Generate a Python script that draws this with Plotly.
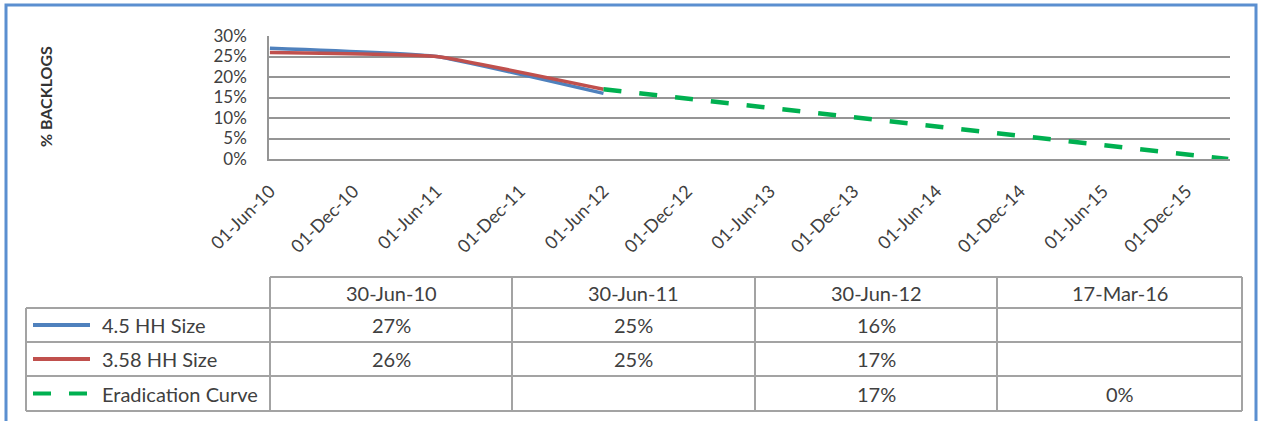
import pandas as pd
import plotly.graph_objects as go

W, H = 1262, 421

# Reporting dates and backlog shares per household-size scenario
dates = ["2010-06-30", "2011-06-30", "2012-06-30", "2016-03-17"]
series_names = ["4.5 HH Size", "3.58 HH Size", "Eradication Curve"]
hh_45 = [0.27, 0.25, 0.16, None]
hh_358 = [0.26, 0.25, 0.17, None]
eradication = [None, None, 0.17, 0.00]
y_ticks = [0, 0.05, 0.10, 0.15, 0.20, 0.25, 0.30]

series_values = [hh_45, hh_358, eradication]
series_colors = ["#4F81BD", "#C0504D", "#00B050"]
series_dash = ["solid", "solid", "18px,18px"]
series_shape = ["spline", "spline", "linear"]

FONT = "Lato, 'Open Sans', sans-serif"
TXT = "#404040"
GRID = "#959595"
TABLE_LINE = "#a3a3a3"


def px(x):
    return x / W


def py(y):
    return 1 - y / H


# Dates are placed on a month-based axis (each point sits at the start of its month)
dt = pd.to_datetime(dates)
month_pos = dt.to_period("M").to_timestamp()

fig = go.Figure()
for name, vals, col, dash, shape in zip(series_names, series_values, series_colors,
                                        series_dash, series_shape):
    xs = [m for m, v in zip(month_pos, vals) if v is not None]
    ys = [v for v in vals if v is not None]
    fig.add_trace(go.Scatter(
        x=xs, y=ys, name=name, mode="lines",
        line=dict(color=col, width=4.5 if dash != "solid" else 3.5, dash=dash,
                  shape=shape, smoothing=0.35 if shape == "spline" else None),
        showlegend=False, hoverinfo="skip",
    ))

fig.update_layout(
    width=W, height=H,
    margin=dict(l=0, r=0, t=0, b=0, autoexpand=False),
    paper_bgcolor="white", plot_bgcolor="white",
    font=dict(family=FONT, color=TXT, size=18),
    xaxis=dict(
        type="date",
        automargin=False,
        domain=[px(269), px(1230)],
        range=["2010-05-30", "2016-03-05"],
        tick0="2010-06-01", dtick="M6", tickformat="%d-%b-%y",
        tickangle=-45, showgrid=False, zeroline=False,
        showline=True, linecolor=GRID, linewidth=1.5,
        # invisible tick marks keep the slanted labels clear of the axis
        ticks="outside", ticklen=13, tickcolor="rgba(0,0,0,0)",
        tickfont=dict(family=FONT, size=18, color=TXT),
        fixedrange=True,
    ),
    yaxis=dict(
        automargin=False,
        domain=[py(159), py(35.6)],
        range=[0, 0.301],
        tickvals=y_ticks, tickformat=".0%",
        showgrid=True, gridcolor=GRID, gridwidth=1.5,
        showline=True, linecolor=GRID, linewidth=1.5,
        zeroline=False, ticks="", ticklabelstandoff=17,
        tickfont=dict(family=FONT, size=17, color=TXT),
        fixedrange=True,
    ),
)

shapes = []
annotations = []

# Outer frame
shapes.append(dict(type="rect", xref="paper", yref="paper",
                   x0=px(6), x1=px(1256), y0=py(5), y1=py(440),
                   line=dict(color="#5b8fd0", width=3), fillcolor="rgba(0,0,0,0)"))

# Axis title
annotations.append(dict(text="<b>% BACKLOGS</b>", xref="paper", yref="paper",
                        x=px(45), y=py(97), showarrow=False, textangle=-90,
                        font=dict(family=FONT, size=16, color="#333333"),
                        xanchor="center", yanchor="middle"))

# Data table under the chart
row_y = [277, 308, 342, 376, 411]
col_x = [270, 512, 755, 997, 1242]
legend_left = 26


def hline(x0, x1, y):
    shapes.append(dict(type="line", xref="paper", yref="paper",
                       x0=px(x0), x1=px(x1), y0=py(y), y1=py(y),
                       line=dict(color=TABLE_LINE, width=2)))


def vline(x, y0, y1):
    shapes.append(dict(type="line", xref="paper", yref="paper",
                       x0=px(x), x1=px(x), y0=py(y0), y1=py(y1),
                       line=dict(color=TABLE_LINE, width=2)))


hline(col_x[0], col_x[-1], row_y[0])
for y in row_y[1:]:
    hline(legend_left, col_x[-1], y)
vline(legend_left, row_y[1], row_y[-1])
for x in col_x:
    vline(x, row_y[0], row_y[-1])


def cell_text(text, x, y, anchor="center"):
    annotations.append(dict(text=text, xref="paper", yref="paper",
                            x=px(x), y=py(y), showarrow=False,
                            xanchor=anchor, yanchor="middle",
                            font=dict(family=FONT, size=20, color=TXT)))


# Header: reporting dates
for i, d in enumerate(dt):
    cx = (col_x[i] + col_x[i + 1]) / 2
    cell_text(d.strftime("%d-%b-%y"), cx, (row_y[0] + row_y[1]) / 2)

# Series rows: legend key + values
for r, (name, vals, col, dash) in enumerate(zip(series_names, series_values,
                                                series_colors, series_dash)):
    cy = (row_y[r + 1] + row_y[r + 2]) / 2
    shapes.append(dict(type="line", xref="paper", yref="paper",
                       x0=px(33), x1=px(90), y0=py(cy), y1=py(cy),
                       line=dict(color=col, width=4, dash=dash)))
    cell_text(name, 100, cy, anchor="left")
    for i, v in enumerate(vals):
        if v is None:
            continue
        cx = (col_x[i] + col_x[i + 1]) / 2
        cell_text(f"{v:.0%}", cx, cy)

fig.update_layout(shapes=shapes, annotations=annotations)
fig.write_html("out.html")
